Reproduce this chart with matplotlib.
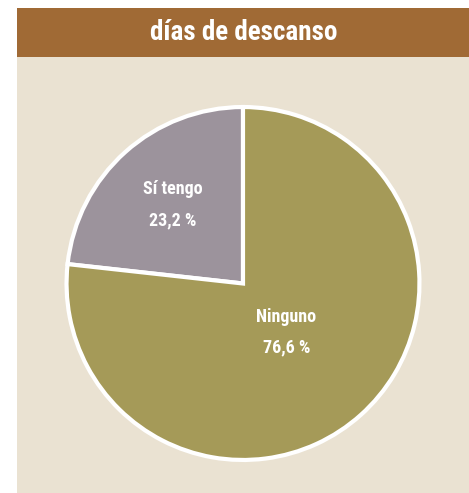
import matplotlib
matplotlib.use("Agg")
import matplotlib.pyplot as plt
import numpy as np
from matplotlib.patches import Rectangle
from matplotlib import font_manager

categories = ["Sí tengo", "Ninguno"]
values = [23.2, 76.6]
colors = ["#9C939C", "#A59A58"]
label_dist = [0.6, 0.37]
title = "días de descanso"

# pick a condensed bold font if one is installed
names = {f.name for f in font_manager.fontManager.ttflist}
cond_dejavu = any(f.name == "DejaVu Sans" and str(f.stretch).lower() in ("condensed", "semi-condensed")
                  for f in font_manager.fontManager.ttflist)
stretch = "normal"
if "Liberation Sans Narrow" in names:
    font = ["Liberation Sans Narrow", "DejaVu Sans"]
    lab_size, title_size = 13, 18
elif "Roboto Condensed" in names:
    font = ["Roboto Condensed", "DejaVu Sans"]
    lab_size, title_size = 13, 19.5
elif cond_dejavu:
    font = ["DejaVu Sans"]
    stretch = "condensed"
    lab_size, title_size = 11.5, 16
else:
    font = ["Liberation Sans", "DejaVu Sans"]
    lab_size, title_size = 12, 16

W, H = 469, 493
fig = plt.figure(figsize=(W / 100, H / 100), dpi=100)
fig.patch.set_facecolor("white")

bg = fig.add_axes([0, 0, 1, 1], zorder=-5)
bg.set_xlim(0, W)
bg.set_ylim(H, 0)
bg.axis("off")
bg.add_patch(Rectangle((17, 57), W - 17, H - 57, facecolor="#EAE2D2", edgecolor="none"))
bg.add_patch(Rectangle((17, 8), W - 17, 49, facecolor="#A06A35", edgecolor="none"))
bg.text((17 + W) / 2 + 1, 32, title, ha="center", va="center", color="white",
        fontsize=title_size, fontweight="bold", family=font, fontstretch=stretch)

cx, cy, r = 243, 283.5, 180
ax = fig.add_axes([(cx - r) / W, (H - cy - r) / H, 2 * r / W, 2 * r / H], zorder=1)
ax.set_facecolor("none")
wedges, _ = ax.pie(values, colors=colors, startangle=90, counterclock=True,
                   wedgeprops=dict(edgecolor="white", linewidth=3),
                   normalize=True)
ax.set_xlim(-1.02, 1.02)
ax.set_ylim(-1.02, 1.02)
ax.set_aspect("equal")
ax.axis("off")

for w, cat, v, d in zip(wedges, categories, values, label_dist):
    ang = np.deg2rad((w.theta1 + w.theta2) / 2)
    x, y = d * np.cos(ang), d * np.sin(ang)
    txt = f"{cat}\n\n{v:.1f} %".replace(".", ",")
    ax.text(x, y, txt, ha="center", va="center", color="white", fontsize=lab_size,
            fontweight="bold", family=font, fontstretch=stretch, linespacing=0.82)

fig.savefig("out.png", dpi=100)
